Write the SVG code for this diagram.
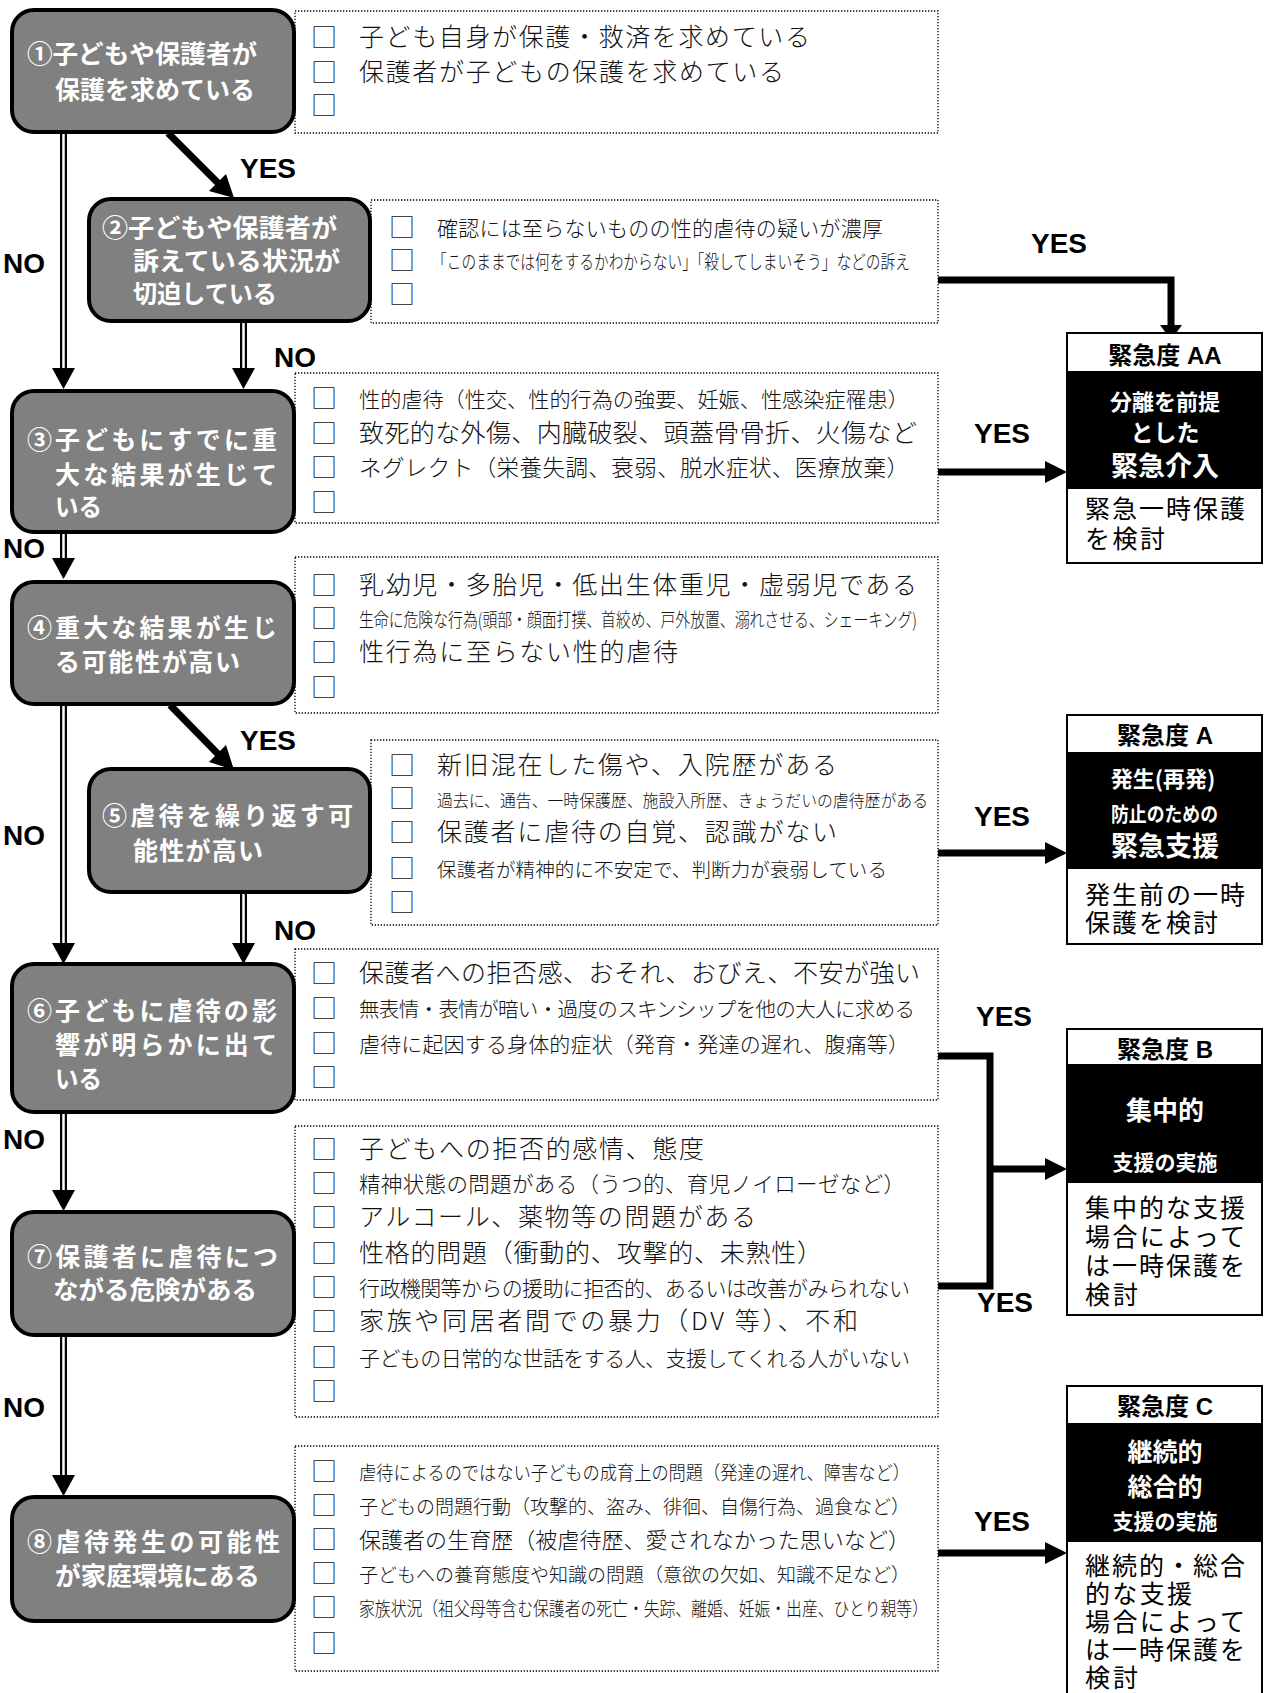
<svg xmlns="http://www.w3.org/2000/svg" width="1264" height="1693" viewBox="0 0 1264 1693">
<style>
.bg{fill:#fff}
.nd{fill:#808080;stroke:#000;stroke-width:4}
.nt{font-family:"Noto Sans CJK JP","Noto Sans CJK SC",sans-serif;font-weight:700;font-size:25px;fill:#fff}
.bx{fill:#fff;stroke:#000;stroke-width:1.3;stroke-dasharray:1.3 1.7}
.it{font-family:"Noto Sans CJK JP","Noto Sans CJK SC",sans-serif;font-weight:300;fill:#111}
.cb{font-family:"Noto Sans CJK JP","Noto Sans CJK SC",sans-serif;font-weight:300;font-size:26px;fill:#111}
.lbl{font-family:"Liberation Sans",Arial,sans-serif;font-weight:700;font-size:28px;fill:#000}
.rb{fill:#fff;stroke:#000;stroke-width:2}
.rk{fill:#000}
.rh{font-family:"Liberation Sans","Noto Sans CJK JP",sans-serif;font-weight:700;font-size:24px;fill:#000;text-anchor:middle}
.rw{font-family:"Noto Sans CJK JP","Noto Sans CJK SC",sans-serif;font-weight:700;fill:#fff;text-anchor:middle}
.rs{font-family:"Noto Sans CJK JP","Noto Sans CJK SC",sans-serif;font-weight:700;fill:#fff}
.rt{font-family:"Noto Sans CJK JP","Noto Sans CJK SC",sans-serif;font-weight:400;font-size:25px;fill:#000}
.dl{fill:none;stroke:#000;stroke-width:7}
.dw{fill:none;stroke:#fff;stroke-width:2.5}
.th{fill:none;stroke:#000;stroke-width:7}
.ah{fill:#000}
</style>
<rect class="bg" x="0" y="0" width="1264" height="1693"/>

<g id="checklists">
  <g id="box1">
    <rect class="bx" x="295" y="11" width="643" height="122"/>
    <text class="cb" x="311" y="47">□</text>
    <text class="cb" x="311" y="82">□</text>
    <text class="cb" x="311" y="115">□</text>
    <text class="it" x="359" y="46" font-size="25" textLength="451" lengthAdjust="spacing">子ども自身が保護・救済を求めている</text>
    <text class="it" x="359" y="81" font-size="25" textLength="425" lengthAdjust="spacing">保護者が子どもの保護を求めている</text>
  </g>
  <g id="box2">
    <rect class="bx" x="371" y="200" width="567" height="123"/>
    <text class="cb" x="389" y="237">□</text>
    <text class="cb" x="389" y="270">□</text>
    <text class="cb" x="389" y="304">□</text>
    <text class="it" x="437" y="236" font-size="21" textLength="446" lengthAdjust="spacing">確認には至らないものの性的虐待の疑いが濃厚</text>
    <text class="it" x="432" y="269" font-size="19" textLength="478" lengthAdjust="spacingAndGlyphs">「このままでは何をするかわからない」「殺してしまいそう」などの訴え</text>
  </g>
  <g id="box3">
    <rect class="bx" x="295" y="373" width="643" height="150"/>
    <text class="cb" x="311" y="408">□</text>
    <text class="cb" x="311" y="443">□</text>
    <text class="cb" x="311" y="477">□</text>
    <text class="cb" x="311" y="512">□</text>
    <text class="it" x="359" y="407" font-size="21" textLength="550" lengthAdjust="spacingAndGlyphs">性的虐待（性交、性的行為の強要、妊娠、性感染症罹患）</text>
    <text class="it" x="359" y="442" font-size="25" textLength="558" lengthAdjust="spacing">致死的な外傷、内臓破裂、頭蓋骨骨折、火傷など</text>
    <text class="it" x="359" y="476" font-size="22.5" textLength="550" lengthAdjust="spacing">ネグレクト（栄養失調、衰弱、脱水症状、医療放棄）</text>
  </g>
  <g id="box4">
    <rect class="bx" x="295" y="557" width="643" height="156"/>
    <text class="cb" x="311" y="595">□</text>
    <text class="cb" x="311" y="628">□</text>
    <text class="cb" x="311" y="662">□</text>
    <text class="cb" x="311" y="697">□</text>
    <text class="it" x="359" y="594" font-size="25" textLength="558" lengthAdjust="spacing">乳幼児・多胎児・低出生体重児・虚弱児である</text>
    <text class="it" x="359" y="627" font-size="19" textLength="558" lengthAdjust="spacingAndGlyphs">生命に危険な行為(頭部・顔面打撲、首絞め、戸外放置、溺れさせる、シェーキング)</text>
    <text class="it" x="359" y="661" font-size="25" textLength="319" lengthAdjust="spacing">性行為に至らない性的虐待</text>
  </g>
  <g id="box5">
    <rect class="bx" x="371" y="740" width="567" height="185"/>
    <text class="cb" x="389" y="775">□</text>
    <text class="cb" x="389" y="808">□</text>
    <text class="cb" x="389" y="842">□</text>
    <text class="cb" x="389" y="878">□</text>
    <text class="cb" x="389" y="912">□</text>
    <text class="it" x="437" y="774" font-size="25" textLength="400" lengthAdjust="spacing">新旧混在した傷や、入院歴がある</text>
    <text class="it" x="437" y="807" font-size="17" textLength="491" lengthAdjust="spacingAndGlyphs">過去に、通告、一時保護歴、施設入所歴、きょうだいの虐待歴がある</text>
    <text class="it" x="437" y="841" font-size="25" textLength="400" lengthAdjust="spacing">保護者に虐待の自覚、認識がない</text>
    <text class="it" x="437" y="877" font-size="19.5" textLength="450" lengthAdjust="spacing">保護者が精神的に不安定で、判断力が衰弱している</text>
  </g>
  <g id="box6">
    <rect class="bx" x="295" y="949" width="643" height="151"/>
    <text class="cb" x="311" y="983">□</text>
    <text class="cb" x="311" y="1018">□</text>
    <text class="cb" x="311" y="1053">□</text>
    <text class="cb" x="311" y="1087">□</text>
    <text class="it" x="359" y="982" font-size="25" textLength="561" lengthAdjust="spacing">保護者への拒否感、おそれ、おびえ、不安が強い</text>
    <text class="it" x="359" y="1017" font-size="20.5" textLength="556" lengthAdjust="spacing">無表情・表情が暗い・過度のスキンシップを他の大人に求める</text>
    <text class="it" x="359" y="1052" font-size="21" textLength="550" lengthAdjust="spacing">虐待に起因する身体的症状（発育・発達の遅れ、腹痛等）</text>
  </g>
  <g id="box7">
    <rect class="bx" x="295" y="1126" width="643" height="291"/>
    <text class="cb" x="311" y="1159">□</text>
    <text class="cb" x="311" y="1193">□</text>
    <text class="cb" x="311" y="1227">□</text>
    <text class="cb" x="311" y="1263">□</text>
    <text class="cb" x="311" y="1297">□</text>
    <text class="cb" x="311" y="1331">□</text>
    <text class="cb" x="311" y="1367">□</text>
    <text class="cb" x="311" y="1401">□</text>
    <text class="it" x="359" y="1158" font-size="25" textLength="345" lengthAdjust="spacing">子どもへの拒否的感情、態度</text>
    <text class="it" x="359" y="1192" font-size="21.5" textLength="546" lengthAdjust="spacing">精神状態の問題がある（うつ的、育児ノイローゼなど）</text>
    <text class="it" x="359" y="1226" font-size="25" textLength="397" lengthAdjust="spacing">アルコール、薬物等の問題がある</text>
    <text class="it" x="359" y="1262" font-size="25" textLength="463" lengthAdjust="spacing">性格的問題（衝動的、攻撃的、未熟性）</text>
    <text class="it" x="359" y="1296" font-size="21" textLength="551" lengthAdjust="spacing">行政機関等からの援助に拒否的、あるいは改善がみられない</text>
    <text class="it" x="359" y="1330" font-size="25" textLength="499" lengthAdjust="spacing">家族や同居者間での暴力（DV 等）、不和</text>
    <text class="it" x="359" y="1366" font-size="21" textLength="551" lengthAdjust="spacing">子どもの日常的な世話をする人、支援してくれる人がいない</text>
  </g>
  <g id="box8">
    <rect class="bx" x="295" y="1446" width="643" height="225"/>
    <text class="cb" x="311" y="1481">□</text>
    <text class="cb" x="311" y="1515">□</text>
    <text class="cb" x="311" y="1549">□</text>
    <text class="cb" x="311" y="1583">□</text>
    <text class="cb" x="311" y="1617">□</text>
    <text class="cb" x="311" y="1653">□</text>
    <text class="it" x="359" y="1480" font-size="19" textLength="551" lengthAdjust="spacingAndGlyphs">虐待によるのではない子どもの成育上の問題（発達の遅れ、障害など）</text>
    <text class="it" x="359" y="1514" font-size="19" textLength="551" lengthAdjust="spacingAndGlyphs">子どもの問題行動（攻撃的、盗み、徘徊、自傷行為、過食など）</text>
    <text class="it" x="359" y="1548" font-size="22" textLength="551" lengthAdjust="spacingAndGlyphs">保護者の生育歴（被虐待歴、愛されなかった思いなど）</text>
    <text class="it" x="359" y="1582" font-size="19" textLength="551" lengthAdjust="spacingAndGlyphs">子どもへの養育態度や知識の問題（意欲の欠如、知識不足など）</text>
    <text class="it" x="359" y="1616" font-size="19" textLength="569" lengthAdjust="spacingAndGlyphs">家族状況（祖父母等含む保護者の死亡・失踪、離婚、妊娠・出産、ひとり親等）</text>
  </g>
</g>

<g id="connectors">
  <path class="dl" d="M63.5,133 V369 M243.5,322 V369 M63.5,533 V559 M63.5,705 V944 M243.5,893 V944 M63.5,1113 V1191 M63.5,1336 V1476"/>
  <path class="dw" d="M63.5,133 V369 M243.5,322 V369 M63.5,533 V559 M63.5,705 V944 M243.5,893 V944 M63.5,1113 V1191 M63.5,1336 V1476"/>
  <polygon class="ah" points="52,368 75,368 63.5,389"/>
  <polygon class="ah" points="232,368 255,368 243.5,389"/>
  <polygon class="ah" points="52,558 75,558 63.5,579"/>
  <polygon class="ah" points="52,943 75,943 63.5,964"/>
  <polygon class="ah" points="232,943 255,943 243.5,964"/>
  <polygon class="ah" points="52,1190 75,1190 63.5,1211"/>
  <polygon class="ah" points="52,1475 75,1475 63.5,1496"/>
  <path class="th" d="M168,133 L218,183"/>
  <polygon class="ah" points="209,191 226,174 234,198"/>
  <path class="th" d="M170,705 L218,754"/>
  <polygon class="ah" points="209,762 226,745 234,770"/>
  <path class="th" d="M938,280 H1171 V330"/>
  <polygon class="ah" points="1160,325 1182,325 1171,340"/>
  <path class="th" d="M938,472 H1046"/>
  <polygon class="ah" points="1045,461 1067,472 1045,483"/>
  <path class="th" d="M938,853 H1046"/>
  <polygon class="ah" points="1045,842 1067,853 1045,864"/>
  <path class="th" d="M938,1056 H990 V1286 H938"/>
  <path class="th" d="M990,1169 H1046"/>
  <polygon class="ah" points="1045,1158 1067,1169 1045,1180"/>
  <path class="th" d="M938,1553 H1046"/>
  <polygon class="ah" points="1045,1542 1067,1553 1045,1564"/>
  <text class="lbl" x="240" y="178">YES</text>
  <text class="lbl" x="3" y="273">NO</text>
  <text class="lbl" x="274" y="367">NO</text>
  <text class="lbl" x="1031" y="253">YES</text>
  <text class="lbl" x="974" y="443">YES</text>
  <text class="lbl" x="3" y="558">NO</text>
  <text class="lbl" x="240" y="750">YES</text>
  <text class="lbl" x="3" y="845">NO</text>
  <text class="lbl" x="974" y="826">YES</text>
  <text class="lbl" x="274" y="940">NO</text>
  <text class="lbl" x="976" y="1026">YES</text>
  <text class="lbl" x="3" y="1149">NO</text>
  <text class="lbl" x="977" y="1312">YES</text>
  <text class="lbl" x="3" y="1417">NO</text>
  <text class="lbl" x="974" y="1531">YES</text>
</g>

<g id="node1">
  <rect class="nd" x="12" y="10" width="282" height="122" rx="22"/>
  <text class="nt" x="27" y="63" textLength="230" lengthAdjust="spacingAndGlyphs">①子どもや保護者が</text>
  <text class="nt" x="55" y="99" textLength="200" lengthAdjust="spacingAndGlyphs">保護を求めている</text>
</g>
<g id="node2">
  <rect class="nd" x="89" y="199" width="281" height="122" rx="22"/>
  <text class="nt" x="102" y="237" textLength="235" lengthAdjust="spacingAndGlyphs">②子どもや保護者が</text>
  <text class="nt" x="133" y="270" textLength="207" lengthAdjust="spacingAndGlyphs">訴えている状況が</text>
  <text class="nt" x="133" y="303" textLength="144" lengthAdjust="spacingAndGlyphs">切迫している</text>
</g>
<g id="node3">
  <rect class="nd" x="12" y="391" width="282" height="141" rx="22"/>
  <text class="nt" x="27" y="449" textLength="250" lengthAdjust="spacing">③子どもにすでに重</text>
  <text class="nt" x="55" y="484" textLength="222" lengthAdjust="spacing">大な結果が生じて</text>
  <text class="nt" x="55" y="516" textLength="47" lengthAdjust="spacingAndGlyphs">いる</text>
</g>
<g id="node4">
  <rect class="nd" x="12" y="582" width="282" height="122" rx="22"/>
  <text class="nt" x="27" y="637" textLength="250" lengthAdjust="spacing">④重大な結果が生じ</text>
  <text class="nt" x="55" y="671" textLength="185" lengthAdjust="spacing">る可能性が高い</text>
</g>
<g id="node5">
  <rect class="nd" x="89" y="769" width="281" height="123" rx="22"/>
  <text class="nt" x="102" y="825" textLength="251" lengthAdjust="spacing">⑤虐待を繰り返す可</text>
  <text class="nt" x="133" y="860" textLength="130" lengthAdjust="spacing">能性が高い</text>
</g>
<g id="node6">
  <rect class="nd" x="12" y="964" width="282" height="148" rx="22"/>
  <text class="nt" x="27" y="1020" textLength="250" lengthAdjust="spacing">⑥子どもに虐待の影</text>
  <text class="nt" x="55" y="1054" textLength="222" lengthAdjust="spacing">響が明らかに出て</text>
  <text class="nt" x="55" y="1088" textLength="47" lengthAdjust="spacingAndGlyphs">いる</text>
</g>
<g id="node7">
  <rect class="nd" x="12" y="1212" width="282" height="123" rx="22"/>
  <text class="nt" x="27" y="1266" textLength="251" lengthAdjust="spacing">⑦保護者に虐待につ</text>
  <text class="nt" x="53" y="1299" textLength="204" lengthAdjust="spacingAndGlyphs">ながる危険がある</text>
</g>
<g id="node8">
  <rect class="nd" x="12" y="1497" width="282" height="124" rx="22"/>
  <text class="nt" x="27" y="1551" textLength="253" lengthAdjust="spacing">⑧虐待発生の可能性</text>
  <text class="nt" x="55" y="1585" textLength="205" lengthAdjust="spacingAndGlyphs">が家庭環境にある</text>
</g>

<g id="urgencyAA">
  <rect class="rb" x="1067" y="333" width="195" height="230"/>
  <rect class="rk" x="1067" y="371" width="195" height="118"/>
  <text class="rh" x="1165" y="364">緊急度 AA</text>
  <text class="rw" x="1165" y="410" font-size="22">分離を前提</text>
  <text class="rw" x="1165" y="441" font-size="23">とした</text>
  <text class="rw" x="1165" y="476" font-size="27">緊急介入</text>
  <text class="rt" x="1085" y="518" textLength="160" lengthAdjust="spacing">緊急一時保護</text>
  <text class="rt" x="1085" y="548" textLength="80" lengthAdjust="spacing">を検討</text>
</g>
<g id="urgencyA">
  <rect class="rb" x="1067" y="715" width="195" height="229"/>
  <rect class="rk" x="1067" y="752" width="195" height="117"/>
  <text class="rh" x="1165" y="744">緊急度 A</text>
  <text class="rw" x="1163" y="787" font-size="22">発生(再発)</text>
  <text class="rs" x="1111" y="822" font-size="20" textLength="107" lengthAdjust="spacingAndGlyphs">防止のための</text>
  <text class="rw" x="1165" y="856" font-size="27">緊急支援</text>
  <text class="rt" x="1085" y="904" textLength="160" lengthAdjust="spacing">発生前の一時</text>
  <text class="rt" x="1085" y="932" textLength="133" lengthAdjust="spacing">保護を検討</text>
</g>
<g id="urgencyB">
  <rect class="rb" x="1067" y="1029" width="195" height="286"/>
  <rect class="rk" x="1067" y="1064" width="195" height="119"/>
  <text class="rh" x="1165" y="1058">緊急度 B</text>
  <text class="rw" x="1165" y="1120" font-size="26">集中的</text>
  <text class="rw" x="1165" y="1170" font-size="21">支援の実施</text>
  <text class="rt" x="1085" y="1217" textLength="160" lengthAdjust="spacing">集中的な支援</text>
  <text class="rt" x="1085" y="1246" textLength="160" lengthAdjust="spacing">場合によって</text>
  <text class="rt" x="1085" y="1275" textLength="160" lengthAdjust="spacing">は一時保護を</text>
  <text class="rt" x="1085" y="1304" textLength="53" lengthAdjust="spacing">検討</text>
</g>
<g id="urgencyC">
  <rect class="rb" x="1067" y="1386" width="195" height="320"/>
  <rect class="rk" x="1067" y="1423" width="195" height="119"/>
  <text class="rh" x="1165" y="1415">緊急度 C</text>
  <text class="rw" x="1165" y="1461" font-size="25">継続的</text>
  <text class="rw" x="1165" y="1496" font-size="25">総合的</text>
  <text class="rw" x="1165" y="1529" font-size="21">支援の実施</text>
  <text class="rt" x="1085" y="1575" textLength="160" lengthAdjust="spacing">継続的・総合</text>
  <text class="rt" x="1085" y="1603" textLength="107" lengthAdjust="spacing">的な支援</text>
  <text class="rt" x="1085" y="1631" textLength="160" lengthAdjust="spacing">場合によって</text>
  <text class="rt" x="1085" y="1659" textLength="160" lengthAdjust="spacing">は一時保護を</text>
  <text class="rt" x="1085" y="1687" textLength="53" lengthAdjust="spacing">検討</text>
</g>
</svg>
